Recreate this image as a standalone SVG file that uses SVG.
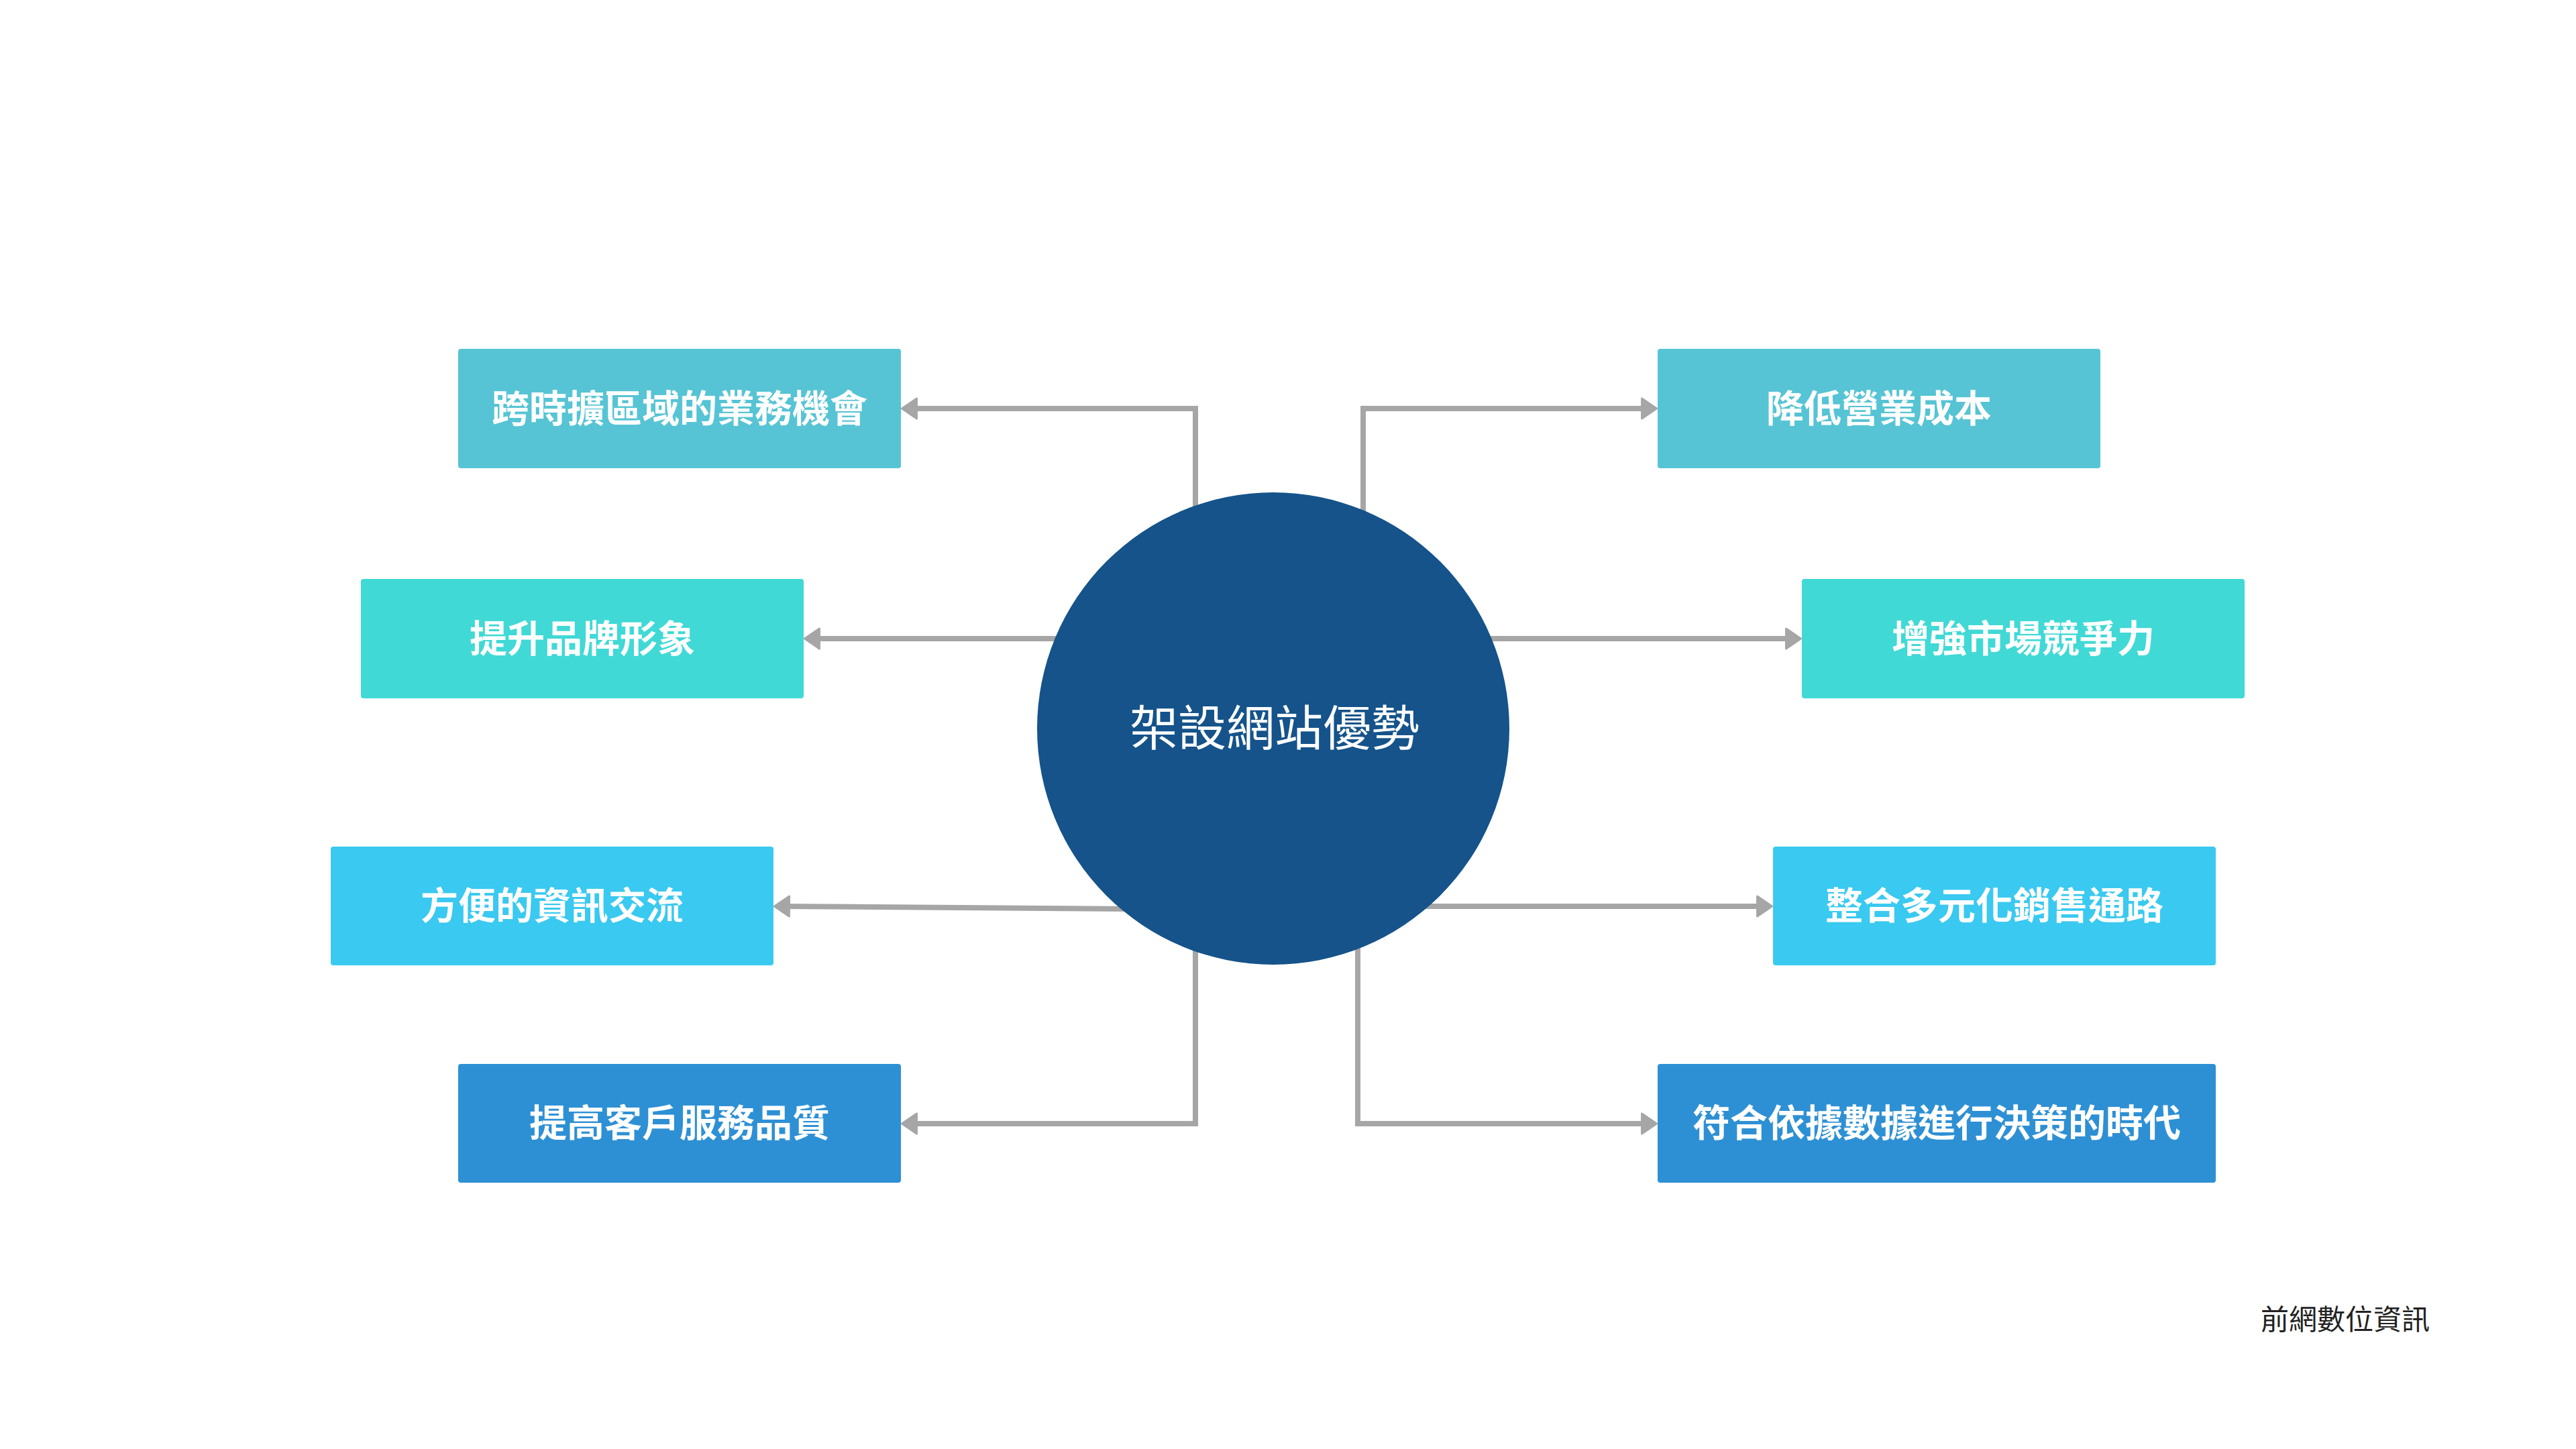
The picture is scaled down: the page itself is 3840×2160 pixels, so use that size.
<svg xmlns="http://www.w3.org/2000/svg" width="3840" height="2160" viewBox="0 0 3840 2160">
  <style>
    .conn { fill: none; stroke: #A6A6A6; stroke-width: 8; stroke-linejoin: miter; marker-end: url(#arrow); }
    .lbl { font-family: "Noto Sans CJK TC", "Noto Sans CJK SC", sans-serif; font-weight: 700; font-size: 56px; fill: #FFFFFF; text-anchor: middle; dominant-baseline: central; }
    .c1 { fill: #56C4D4; }
    .c2 { fill: #40D9D6; }
    .c3 { fill: #3AC9F0; }
    .c4 { fill: #2E90D4; }
  </style>
  <defs>
    <marker id="arrow" markerUnits="userSpaceOnUse" markerWidth="40" markerHeight="40" refX="12" refY="16" orient="auto" overflow="visible">
      <path d="M2,1 L24,16 L2,31 Z" fill="#A6A6A6" stroke="#A6A6A6" stroke-width="3" stroke-linejoin="round"/>
    </marker>
  </defs>
  <rect x="0" y="0" width="3840" height="2160" fill="#FFFFFF"/>

  <g id="connectors">
    <path class="conn" d="M1782,800 V609 H1356.5"/>
    <path class="conn" d="M1600,952 H1211.5"/>
    <path class="conn" d="M1690,1355 L1166.5,1351"/>
    <path class="conn" d="M1782,1400 V1675 H1356.5"/>
    <path class="conn" d="M2032,800 V609 H2457.5"/>
    <path class="conn" d="M2200,952 H2672.5"/>
    <path class="conn" d="M2100,1351 H2629.5"/>
    <path class="conn" d="M2024,1400 V1675 H2457.5"/>
  </g>

  <g id="center">
    <circle cx="1898" cy="1086" r="352" fill="#15538A"/>
    <text x="1900" y="1079" font-family="'Noto Sans CJK TC', 'Noto Sans CJK SC', sans-serif" font-size="72" font-weight="400" fill="#FFFFFF" text-anchor="middle" dominant-baseline="central">架設網站優勢</text>
  </g>

  <g id="node-cross-region">
    <rect class="c1" x="683" y="520" width="660" height="178" rx="4"/>
    <text class="lbl" x="1013" y="604">跨時擴區域的業務機會</text>
  </g>
  <g id="node-brand">
    <rect class="c2" x="538" y="863" width="660" height="178" rx="4"/>
    <text class="lbl" x="868" y="947">提升品牌形象</text>
  </g>
  <g id="node-info">
    <rect class="c3" x="493" y="1262" width="660" height="177" rx="4"/>
    <text class="lbl" x="823" y="1345">方便的資訊交流</text>
  </g>
  <g id="node-service">
    <rect class="c4" x="683" y="1586" width="660" height="177" rx="4"/>
    <text class="lbl" x="1013" y="1669">提高客戶服務品質</text>
  </g>
  <g id="node-cost">
    <rect class="c1" x="2471" y="520" width="660" height="178" rx="4"/>
    <text class="lbl" x="2801" y="604">降低營業成本</text>
  </g>
  <g id="node-compete">
    <rect class="c2" x="2686" y="863" width="660" height="178" rx="4"/>
    <text class="lbl" x="3016" y="947">增強市場競爭力</text>
  </g>
  <g id="node-channel">
    <rect class="c3" x="2643" y="1262" width="660" height="177" rx="4"/>
    <text class="lbl" x="2973" y="1345">整合多元化銷售通路</text>
  </g>
  <g id="node-data">
    <rect class="c4" x="2471" y="1586" width="832" height="177" rx="4"/>
    <text class="lbl" x="2887" y="1669">符合依據數據進行決策的時代</text>
  </g>

  <text x="3496" y="1963" font-family="'Noto Sans CJK TC', 'Noto Sans CJK SC', sans-serif" font-size="42" font-weight="400" fill="#222222" text-anchor="middle" dominant-baseline="central">前網數位資訊</text>
</svg>
